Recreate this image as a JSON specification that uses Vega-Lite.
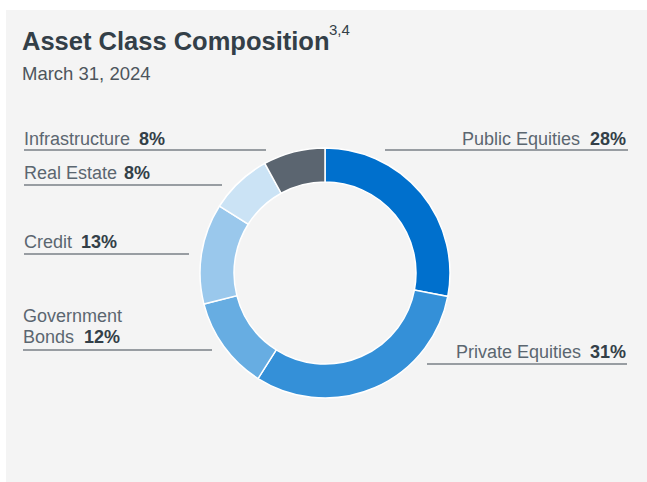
{
  "$schema": "https://vega.github.io/schema/vega-lite/v6.json",
  "width": 644,
  "height": 418,
  "autosize": {"type": "none"},
  "padding": {"left": 3, "top": 64, "right": 0, "bottom": 0},
  "background": "#ffffff",
  "config": {"view": {"fill": null, "stroke": null}, "font": "Liberation Sans"},
  "datasets": {
    "slices": [
      {"category": "Public Equities", "value": 28, "order": 1},
      {"category": "Private Equities", "value": 31, "order": 2},
      {"category": "Government Bonds", "value": 12, "order": 3},
      {"category": "Credit", "value": 13, "order": 4},
      {"category": "Real Estate", "value": 8, "order": 5},
      {"category": "Infrastructure", "value": 8, "order": 6}
    ],
    "panel": [
      {"x": 6, "x2": 647, "y": 10, "y2": 482}
    ],
    "leaders": [
      {"category": "Infrastructure", "x": 24, "x2": 266, "y": 150},
      {"category": "Real Estate", "x": 24, "x2": 222, "y": 185},
      {"category": "Credit", "x": 24, "x2": 189, "y": 254},
      {"category": "Government Bonds", "x": 23, "x2": 212, "y": 350},
      {"category": "Public Equities", "x": 385, "x2": 628, "y": 150},
      {"category": "Private Equities", "x": 427, "x2": 627, "y": 364}
    ],
    "labels": [
      {"text": "Infrastructure", "side": "left", "x": 24, "y": 145},
      {"text": "Real Estate", "side": "left", "x": 24, "y": 179},
      {"text": "Credit", "side": "left", "x": 24, "y": 248},
      {"text": "Government", "side": "left", "x": 23, "y": 322},
      {"text": "Bonds", "side": "left", "x": 23, "y": 343},
      {"text": "Public Equities", "side": "right", "x": 580, "y": 145},
      {"text": "Private Equities", "side": "right", "x": 581, "y": 358}
    ],
    "pcts": [
      {"text": "8%", "side": "left", "x": 139, "y": 145},
      {"text": "8%", "side": "left", "x": 124, "y": 179},
      {"text": "13%", "side": "left", "x": 81, "y": 248},
      {"text": "12%", "side": "left", "x": 84, "y": 343},
      {"text": "28%", "side": "right", "x": 626, "y": 145},
      {"text": "31%", "side": "right", "x": 626, "y": 358}
    ]
  },
  "encoding": {
    "x": {"field": "x", "type": "quantitative", "scale": {"domain": [3, 647], "nice": false, "zero": false}, "axis": null},
    "y": {"field": "y", "type": "quantitative", "scale": {"domain": [64, 482], "reverse": true, "nice": false, "zero": false}, "axis": null}
  },
  "layer": [
    {
      "data": {"name": "panel"},
      "mark": {"type": "rect", "color": "#f4f4f4"},
      "encoding": {"x2": {"field": "x2"}, "y2": {"field": "y2"}}
    },
    {
      "data": {"name": "slices"},
      "mark": {"type": "arc", "outerRadius": 125, "innerRadius": 91, "stroke": "#ffffff", "strokeWidth": 1.5},
      "encoding": {
        "x": null,
        "y": null,
        "theta": {"field": "value", "type": "quantitative", "stack": true},
        "order": {"field": "order", "type": "quantitative"},
        "color": {
          "field": "category",
          "type": "nominal",
          "scale": {
            "domain": ["Public Equities", "Private Equities", "Government Bonds", "Credit", "Real Estate", "Infrastructure"],
            "range": ["#0070cd", "#3490d8", "#67ade2", "#9ac8ec", "#cbe3f5", "#5b6570"]
          },
          "legend": null
        }
      }
    },
    {
      "data": {"name": "leaders"},
      "mark": {"type": "rule", "color": "#7a8087", "strokeWidth": 1.5},
      "encoding": {
        "x2": {"field": "x2"}
      }
    },
    {
      "data": {"name": "labels"},
      "transform": [{"filter": "datum.side === 'left'"}],
      "mark": {"type": "text", "align": "left", "baseline": "alphabetic", "fontSize": 18, "color": "#5b6670"},
      "encoding": {"text": {"field": "text"}}
    },
    {
      "data": {"name": "labels"},
      "transform": [{"filter": "datum.side === 'right'"}],
      "mark": {"type": "text", "align": "right", "baseline": "alphabetic", "fontSize": 18, "color": "#5b6670"},
      "encoding": {"text": {"field": "text"}}
    },
    {
      "data": {"name": "pcts"},
      "transform": [{"filter": "datum.side === 'left'"}],
      "mark": {"type": "text", "align": "left", "baseline": "alphabetic", "fontSize": 18, "fontWeight": "bold", "color": "#333f48"},
      "encoding": {"text": {"field": "text"}}
    },
    {
      "data": {"name": "pcts"},
      "transform": [{"filter": "datum.side === 'right'"}],
      "mark": {"type": "text", "align": "right", "baseline": "alphabetic", "fontSize": 18, "fontWeight": "bold", "color": "#333f48"},
      "encoding": {"text": {"field": "text"}}
    },
    {
      "data": {"values": [{"text": "Asset Class Composition", "x": 22, "y": 50}]},
      "mark": {"type": "text", "align": "left", "baseline": "alphabetic", "fontSize": 25.5, "fontWeight": "bold", "color": "#333f48"},
      "encoding": {"text": {"field": "text"}}
    },
    {
      "data": {"values": [{"text": "3,4", "x": 329, "y": 35}]},
      "mark": {"type": "text", "align": "left", "baseline": "alphabetic", "fontSize": 15, "color": "#333f48"},
      "encoding": {"text": {"field": "text"}}
    },
    {
      "data": {"values": [{"text": "March 31, 2024", "x": 22, "y": 80}]},
      "mark": {"type": "text", "align": "left", "baseline": "alphabetic", "fontSize": 18.5, "color": "#4d555c"},
      "encoding": {"text": {"field": "text"}}
    }
  ]
}
